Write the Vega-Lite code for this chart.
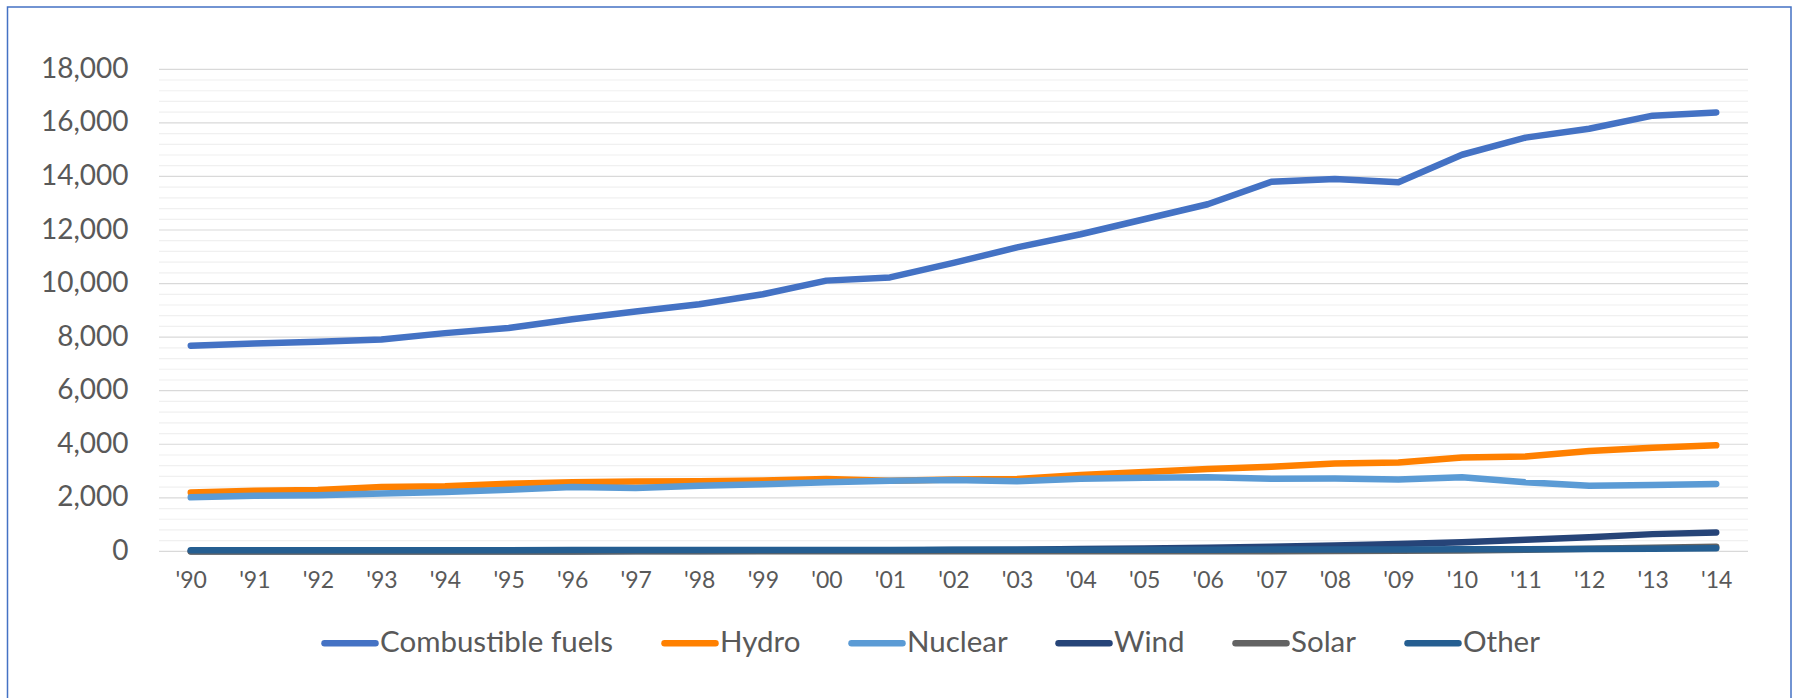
{
  "$schema": "https://vega.github.io/schema/vega-lite/v6.json",
  "width": 1783.5,
  "height": 693,
  "autosize": {"type": "none"},
  "padding": {"left": 7.5, "top": 7, "right": 6, "bottom": -2},
  "background": "white",
  "config": {"view": {"stroke": "#4472C4", "strokeWidth": 1.5}, "font": "Lato"},
  "datasets": {
    "energy": [
      {"year": 1990, "Combustible fuels": 7680, "Hydro": 2200, "Nuclear": 2020, "Wind": 4, "Solar": 0, "Other": 40},
      {"year": 1991, "Combustible fuels": 7760, "Hydro": 2260, "Nuclear": 2080, "Wind": 5, "Solar": 0, "Other": 42},
      {"year": 1992, "Combustible fuels": 7830, "Hydro": 2290, "Nuclear": 2100, "Wind": 5, "Solar": 0, "Other": 43},
      {"year": 1993, "Combustible fuels": 7910, "Hydro": 2400, "Nuclear": 2160, "Wind": 6, "Solar": 0, "Other": 44},
      {"year": 1994, "Combustible fuels": 8150, "Hydro": 2430, "Nuclear": 2220, "Wind": 7, "Solar": 0, "Other": 45},
      {"year": 1995, "Combustible fuels": 8340, "Hydro": 2530, "Nuclear": 2300, "Wind": 8, "Solar": 0, "Other": 46},
      {"year": 1996, "Combustible fuels": 8670, "Hydro": 2580, "Nuclear": 2400, "Wind": 10, "Solar": 0, "Other": 48},
      {"year": 1997, "Combustible fuels": 8960, "Hydro": 2610, "Nuclear": 2370, "Wind": 12, "Solar": 1, "Other": 50},
      {"year": 1998, "Combustible fuels": 9230, "Hydro": 2620, "Nuclear": 2450, "Wind": 16, "Solar": 1, "Other": 52},
      {"year": 1999, "Combustible fuels": 9600, "Hydro": 2650, "Nuclear": 2510, "Wind": 21, "Solar": 1, "Other": 54},
      {"year": 2000, "Combustible fuels": 10110, "Hydro": 2700, "Nuclear": 2580, "Wind": 31, "Solar": 1, "Other": 56},
      {"year": 2001, "Combustible fuels": 10230, "Hydro": 2640, "Nuclear": 2640, "Wind": 38, "Solar": 1, "Other": 55},
      {"year": 2002, "Combustible fuels": 10770, "Hydro": 2680, "Nuclear": 2670, "Wind": 52, "Solar": 2, "Other": 57},
      {"year": 2003, "Combustible fuels": 11350, "Hydro": 2700, "Nuclear": 2620, "Wind": 63, "Solar": 2, "Other": 60},
      {"year": 2004, "Combustible fuels": 11840, "Hydro": 2850, "Nuclear": 2710, "Wind": 85, "Solar": 3, "Other": 62},
      {"year": 2005, "Combustible fuels": 12400, "Hydro": 2960, "Nuclear": 2750, "Wind": 104, "Solar": 4, "Other": 63},
      {"year": 2006, "Combustible fuels": 12960, "Hydro": 3080, "Nuclear": 2770, "Wind": 133, "Solar": 6, "Other": 65},
      {"year": 2007, "Combustible fuels": 13800, "Hydro": 3160, "Nuclear": 2710, "Wind": 171, "Solar": 8, "Other": 67},
      {"year": 2008, "Combustible fuels": 13900, "Hydro": 3280, "Nuclear": 2720, "Wind": 220, "Solar": 13, "Other": 70},
      {"year": 2009, "Combustible fuels": 13780, "Hydro": 3320, "Nuclear": 2680, "Wind": 276, "Solar": 21, "Other": 72},
      {"year": 2010, "Combustible fuels": 14810, "Hydro": 3510, "Nuclear": 2770, "Wind": 342, "Solar": 34, "Other": 76},
      {"year": 2011, "Combustible fuels": 15450, "Hydro": 3540, "Nuclear": 2580, "Wind": 437, "Solar": 65, "Other": 80},
      {"year": 2012, "Combustible fuels": 15780, "Hydro": 3750, "Nuclear": 2450, "Wind": 524, "Solar": 100, "Other": 88},
      {"year": 2013, "Combustible fuels": 16270, "Hydro": 3870, "Nuclear": 2480, "Wind": 645, "Solar": 139, "Other": 100},
      {"year": 2014, "Combustible fuels": 16390, "Hydro": 3960, "Nuclear": 2520, "Wind": 706, "Solar": 170, "Other": 115}
    ],
    "majorGrid": [
      {"v": 0}, {"v": 2000}, {"v": 4000}, {"v": 6000}, {"v": 8000}, {"v": 10000},
      {"v": 12000}, {"v": 14000}, {"v": 16000}, {"v": 18000}
    ],
    "minorGrid": [
      {"v": 400}, {"v": 800}, {"v": 1200}, {"v": 1600},
      {"v": 2400}, {"v": 2800}, {"v": 3200}, {"v": 3600},
      {"v": 4400}, {"v": 4800}, {"v": 5200}, {"v": 5600},
      {"v": 6400}, {"v": 6800}, {"v": 7200}, {"v": 7600},
      {"v": 8400}, {"v": 8800}, {"v": 9200}, {"v": 9600},
      {"v": 10400}, {"v": 10800}, {"v": 11200}, {"v": 11600},
      {"v": 12400}, {"v": 12800}, {"v": 13200}, {"v": 13600},
      {"v": 14400}, {"v": 14800}, {"v": 15200}, {"v": 15600},
      {"v": 16400}, {"v": 16800}, {"v": 17200}, {"v": 17600}
    ]
  },
  "layer": [
    {
      "data": {"name": "minorGrid"},
      "mark": {"type": "rule", "stroke": "#f0f0f0", "strokeWidth": 1.2},
      "encoding": {
        "y": {"field": "v", "type": "quantitative",
              "scale": {"domain": [0, 18000], "range": [544.4, 62.3], "nice": false, "zero": true}},
        "x": {"datum": 1989.5, "type": "quantitative",
              "scale": {"domain": [1989.5, 2014.5], "range": [151.5, 1740.5], "nice": false, "zero": false}},
        "x2": {"datum": 2014.5}
      }
    },
    {
      "data": {"name": "majorGrid"},
      "mark": {"type": "rule", "stroke": "#d9d9d9", "strokeWidth": 1.2},
      "encoding": {
        "y": {"field": "v", "type": "quantitative",
              "scale": {"domain": [0, 18000], "range": [544.4, 62.3], "nice": false, "zero": true}},
        "x": {"datum": 1989.5, "type": "quantitative",
              "scale": {"domain": [1989.5, 2014.5], "range": [151.5, 1740.5], "nice": false, "zero": false}},
        "x2": {"datum": 2014.5}
      }
    },
    {
      "data": {"name": "energy"},
      "transform": [
        {"fold": ["Combustible fuels", "Hydro", "Nuclear", "Wind", "Solar", "Other"], "as": ["source", "value"]}
      ],
      "encoding": {
        "x": {
          "field": "year", "type": "quantitative",
          "scale": {"domain": [1989.5, 2014.5], "range": [151.5, 1740.5], "nice": false, "zero": false},
          "axis": {
            "orient": "bottom", "offset": -148.6, "title": null, "grid": false, "domain": false, "ticks": false,
            "values": [1990, 1991, 1992, 1993, 1994, 1995, 1996, 1997, 1998, 1999, 2000, 2001, 2002, 2003, 2004, 2005, 2006, 2007, 2008, 2009, 2010, 2011, 2012, 2013, 2014],
            "labelExpr": "\"'\" + substring(toString(datum.value), 2, 4)",
            "labelFont": "Lato", "labelFontSize": 23, "labelColor": "#595959",
            "labelPadding": 18, "labelBaseline": "top", "labelFlush": false, "labelOverlap": false
          }
        },
        "y": {
          "field": "value", "type": "quantitative",
          "scale": {"domain": [0, 18000], "range": [544.4, 62.3], "nice": false, "zero": true},
          "axis": {
            "orient": "left", "offset": -151.5, "title": null, "grid": false, "domain": false, "ticks": false,
            "values": [0, 2000, 4000, 6000, 8000, 10000, 12000, 14000, 16000, 18000],
            "format": ",d", "labelFont": "Lato", "labelFontSize": 28, "labelColor": "#595959",
            "labelPadding": 31, "labelBaseline": "middle", "labelFlush": false, "labelOverlap": false
          }
        },
        "color": {
          "field": "source", "type": "nominal",
          "scale": {
            "domain": ["Combustible fuels", "Hydro", "Nuclear", "Wind", "Solar", "Other"],
            "range": ["#4472C4", "#FF8000", "#5B9BD5", "#264478", "#636363", "#255E91"]
          },
          "legend": {
            "orient": "none", "legendX": 313.5, "legendY": 607, "direction": "horizontal", "columns": 6,
            "title": null, "symbolType": "stroke", "symbolStrokeWidth": 6.5, "symbolSize": 2600,
            "labelFont": "Lato", "labelFontSize": 29.5, "labelColor": "#595959", "labelOffset": 1, "labelLimit": 0,
            "columnPadding": 37, "padding": 0,
            "encode": {"symbols": {"update": {"strokeCap": {"value": "round"}}}}
          }
        }
      },
      "layer": [
        {"transform": [{"filter": {"field": "source", "equal": "Combustible fuels"}}],
         "mark": {"type": "line", "strokeWidth": 6.5, "strokeCap": "round", "strokeJoin": "round"}},
        {"transform": [{"filter": {"field": "source", "equal": "Hydro"}}],
         "mark": {"type": "line", "strokeWidth": 6.5, "strokeCap": "round", "strokeJoin": "round"}},
        {"transform": [{"filter": {"field": "source", "equal": "Nuclear"}}],
         "mark": {"type": "line", "strokeWidth": 6.5, "strokeCap": "round", "strokeJoin": "round"}},
        {"transform": [{"filter": {"field": "source", "equal": "Wind"}}],
         "mark": {"type": "line", "strokeWidth": 6.5, "strokeCap": "round", "strokeJoin": "round"}},
        {"transform": [{"filter": {"field": "source", "equal": "Solar"}}],
         "mark": {"type": "line", "strokeWidth": 6.5, "strokeCap": "round", "strokeJoin": "round"}},
        {"transform": [{"filter": {"field": "source", "equal": "Other"}}],
         "mark": {"type": "line", "strokeWidth": 6.5, "strokeCap": "round", "strokeJoin": "round"}}
      ]
    }
  ]
}
